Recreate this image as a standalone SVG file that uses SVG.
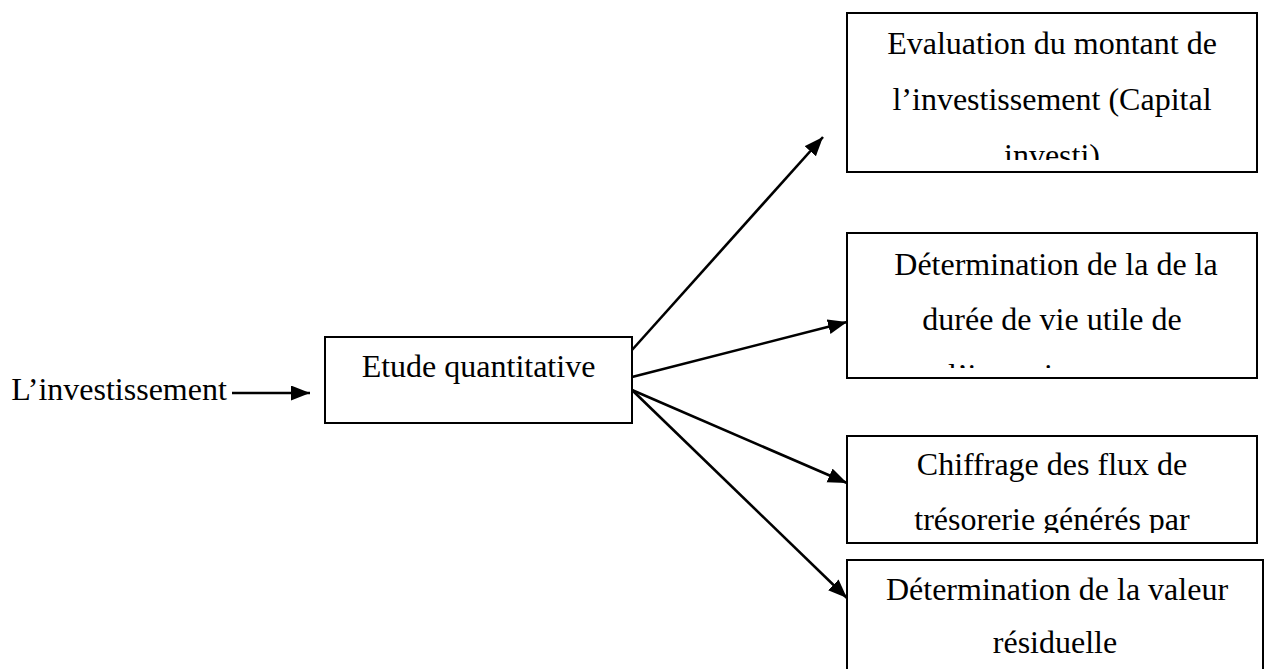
<svg xmlns="http://www.w3.org/2000/svg" width="1269" height="669" viewBox="0 0 1269 669">
<style>
.box{fill:#fff;stroke:#000;stroke-width:2}
.t{font-family:"Liberation Serif","Times New Roman",serif;font-size:32px;fill:#000;text-anchor:middle}
.c{stroke:#000;stroke-width:2.6;fill:none;marker-end:url(#ah)}
</style>
<defs>
<marker id="ah" markerUnits="userSpaceOnUse" markerWidth="20" markerHeight="16" refX="19" refY="7.5" orient="auto">
<path d="M0,0 L19,7.5 L0,15 z" fill="#000"/>
</marker>
<clipPath id="cl1"><rect x="847" y="13" width="410" height="147"/></clipPath>
<clipPath id="cl2"><rect x="847" y="233" width="410" height="135"/></clipPath>
<clipPath id="cl3"><rect x="847" y="436" width="410" height="97"/></clipPath>
</defs>
<rect width="1269" height="669" fill="#fff"/>
<g id="n0">
<text class="t" x="119" y="400">L’investissement</text>
</g>
<g id="n1">
<rect class="box" x="325" y="337" width="307" height="86"/>
<text class="t" x="478.5" y="377">Etude quantitative</text>
</g>
<g id="n2">
<rect class="box" x="847" y="13" width="410" height="159"/>
<g clip-path="url(#cl1)">
<text class="t" x="1052" y="54">Evaluation du montant de</text>
<text class="t" x="1052" y="110">l’investissement (Capital</text>
<text class="t" x="1052" y="166">investi)</text>
</g>
</g>
<g id="n3">
<rect class="box" x="847" y="233" width="410" height="145"/>
<g clip-path="url(#cl2)">
<text class="t" x="1056" y="275">Détermination de la de la</text>
<text class="t" x="1052" y="330">durée de vie utile de</text>
<text class="t" x="1052" y="386">l’investissement</text>
</g>
</g>
<g id="n4">
<rect class="box" x="847" y="436" width="410" height="107"/>
<g clip-path="url(#cl3)">
<text class="t" x="1052" y="475">Chiffrage des flux de</text>
<text class="t" x="1052" y="530">trésorerie générés par</text>
</g>
</g>
<g id="n5">
<rect class="box" x="847" y="560" width="416" height="130"/>
<text class="t" x="1057" y="600">Détermination de la valeur</text>
<text class="t" x="1055" y="653">résiduelle</text>
</g>
<g id="connectors">
<line class="c" x1="232" y1="393" x2="310" y2="393"/>
<line class="c" x1="632" y1="350" x2="823" y2="137"/>
<line class="c" x1="632" y1="377" x2="847" y2="322"/>
<line class="c" x1="632" y1="390" x2="847" y2="483"/>
<line class="c" x1="632" y1="390" x2="847" y2="598"/>
</g>
</svg>
